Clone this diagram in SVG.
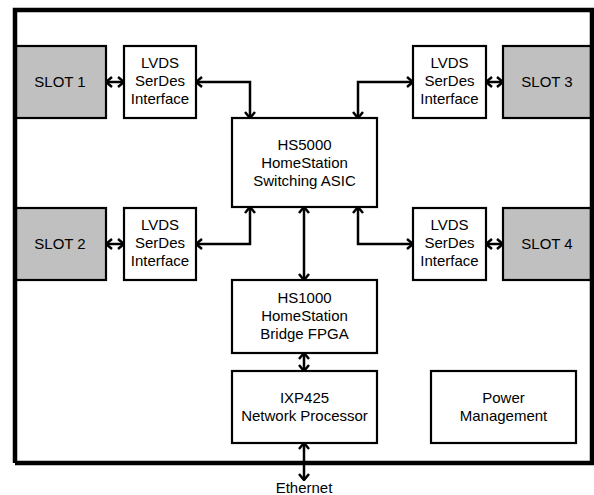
<svg xmlns="http://www.w3.org/2000/svg" width="594" height="495" viewBox="0 0 594 495">
<style>
.box{fill:#fff;stroke:#000;stroke-width:2.2}
.slot{fill:#c0c0c0;stroke:#000;stroke-width:2.2}
.t{font-family:"Liberation Sans",Arial,sans-serif;font-size:15px;fill:#000;text-anchor:middle}
.c{fill:none;stroke:#000;stroke-width:2.5;marker-start:url(#a);marker-end:url(#a)}
</style>
<defs>
<marker id="a" viewBox="0 0 8 12" refX="7" refY="6" markerWidth="8" markerHeight="12" markerUnits="userSpaceOnUse" orient="auto-start-reverse">
<path d="M1,1 L7,6 L1,11" fill="none" stroke="#000" stroke-width="2.5"/>
</marker>
</defs>
<rect width="594" height="495" fill="#fff"/>
<g id="slot1"><rect class="slot" x="15" y="46" width="91" height="72"/><text class="t" x="60" y="87">SLOT 1</text></g>
<g id="lvds1"><rect class="box" x="124" y="46" width="72" height="72"/><text class="t" x="160" y="68">LVDS</text><text class="t" x="160" y="86">SerDes</text><text class="t" x="160" y="104">Interface</text></g>
<g id="slot3"><rect class="slot" x="503" y="46" width="88" height="72"/><text class="t" x="547" y="87">SLOT 3</text></g>
<g id="lvds3"><rect class="box" x="413" y="46" width="73" height="72"/><text class="t" x="449.5" y="68">LVDS</text><text class="t" x="449.5" y="86">SerDes</text><text class="t" x="449.5" y="104">Interface</text></g>
<g id="slot2"><rect class="slot" x="15" y="208" width="91" height="72"/><text class="t" x="60" y="249">SLOT 2</text></g>
<g id="lvds2"><rect class="box" x="124" y="208" width="72" height="72"/><text class="t" x="160" y="230">LVDS</text><text class="t" x="160" y="248">SerDes</text><text class="t" x="160" y="266">Interface</text></g>
<g id="slot4"><rect class="slot" x="503" y="208" width="88" height="72"/><text class="t" x="547" y="249">SLOT 4</text></g>
<g id="lvds4"><rect class="box" x="413" y="208" width="73" height="72"/><text class="t" x="449.5" y="230">LVDS</text><text class="t" x="449.5" y="248">SerDes</text><text class="t" x="449.5" y="266">Interface</text></g>
<g id="hs5000"><rect class="box" x="232" y="118" width="145" height="89"/><text class="t" x="304.5" y="150">HS5000</text><text class="t" x="304.5" y="168">HomeStation</text><text class="t" x="304.5" y="186">Switching ASIC</text></g>
<g id="hs1000"><rect class="box" x="232" y="280" width="145" height="73"/><text class="t" x="304.5" y="303">HS1000</text><text class="t" x="304.5" y="321">HomeStation</text><text class="t" x="304.5" y="339">Bridge FPGA</text></g>
<g id="ixp425"><rect class="box" x="232" y="371" width="145" height="72"/><text class="t" x="304.5" y="403">IXP425</text><text class="t" x="304.5" y="421">Network Processor</text></g>
<g id="power"><rect class="box" x="431" y="371" width="145" height="72"/><text class="t" x="503.5" y="403">Power</text><text class="t" x="503.5" y="421">Management</text></g>
<g id="chassis"><path d="M15,463 V10 H592 V463 H15" fill="none" stroke="#000" stroke-width="4.5"/></g>
<g id="ethernet"><text class="t" x="304" y="493">Ethernet</text></g>
<g id="connectors">
<path class="c" d="M106,82 H124"/>
<path class="c" d="M486,82 H503"/>
<path class="c" d="M106,244 H124"/>
<path class="c" d="M486,244 H503"/>
<path class="c" d="M196,82 H250 V118"/>
<path class="c" d="M413,82 H358 V118"/>
<path class="c" d="M196,244 H250 V207"/>
<path class="c" d="M413,244 H358 V207"/>
<path class="c" d="M304,207 V280"/>
<path class="c" d="M304,353 V371"/>
<path class="c" d="M304,443 V480"/>
</g>
</svg>
